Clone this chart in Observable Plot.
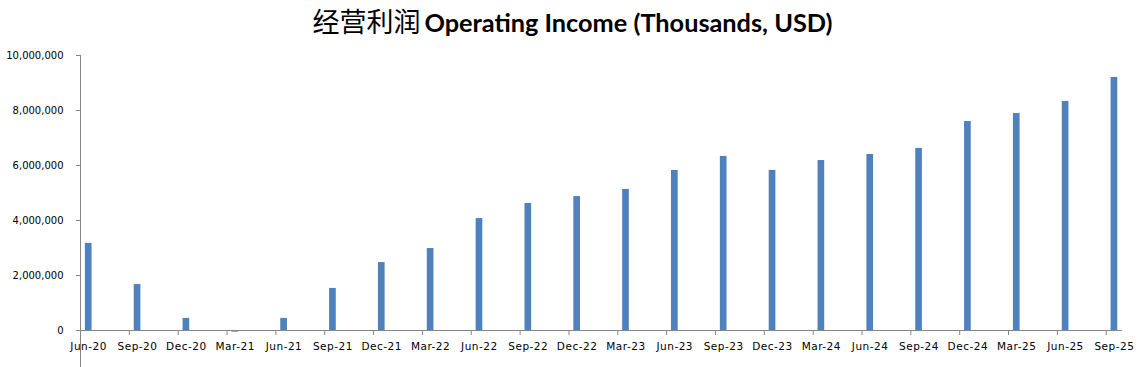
<!DOCTYPE html>
<html><head><meta charset="utf-8">
<script src="https://cdn.jsdelivr.net/npm/d3@7"></script>
<script src="https://cdn.jsdelivr.net/npm/@observablehq/plot@0.6"></script>
<style>
body{margin:0;background:#fff;width:1145px;overflow:hidden;}
#title{height:40px;text-align:center;white-space:nowrap;line-height:41px;color:#000;}
#title .zh{font-family:"Noto Sans CJK SC";font-size:27px;font-weight:400;}
#title .en{font-family:Lato,"Noto Sans";font-size:25.3px;font-weight:700;}
.xlab text{letter-spacing:0.5px;}
</style></head><body>
<div id="title"><span class="zh">经营利润</span> <span class="en">Operating Income (Thousands, USD)</span></div>
<div id="chart"></div>
<script>
const quarters = ["Jun-20","Sep-20","Dec-20","Mar-21","Jun-21","Sep-21","Dec-21","Mar-22","Jun-22","Sep-22","Dec-22","Mar-23","Jun-23","Sep-23","Dec-23","Mar-24","Jun-24","Sep-24","Dec-24","Mar-25","Jun-25","Sep-25"];
const incomeThousands = [3170000,1670000,440000,-60000,440000,1530000,2470000,2980000,4070000,4620000,4870000,5130000,5820000,6330000,5820000,6180000,6400000,6620000,7600000,7890000,8330000,9200000];
const yTicks = [0,2000000,4000000,6000000,8000000,10000000];

const monthsPerQuarter = 3;
const data = quarters.map((q,i)=>({q, m:i*monthsPerQuarter, v:incomeThousands[i]}));
const tickMonths = data.map(d=>d.m);
const axisEnd = quarters.length*monthsPerQuarter - 2;
const axisGray = "#868686";

const chart = Plot.plot({
  width:1145, height:327,
  marginTop:15, marginBottom:37, marginLeft:80, marginRight:23,
  style:{fontFamily:"DejaVu Sans", fontSize:"10px", color:"#000", background:"#fff"},
  x:{domain:[0, axisEnd], axis:null},
  y:{domain:[0, 10000000], axis:null},
  marks:[
    Plot.rectY(data,{x1:d=>d.m+0.3, x2:d=>d.m+0.71, y1:0, y2:"v", fill:"#4F81BD"}),
    Plot.ruleY([0],{x1:0, x2:axisEnd, stroke:axisGray}),
    Plot.ruleX([0],{y1:10000000, y2:-2000000, stroke:axisGray}),
    Plot.axisX({ticks:tickMonths, tickSize:5, tickFormat:()=>"", stroke:axisGray, label:null}),
    Plot.text(data,{x:d=>d.m+0.5, y:0, text:"q", lineAnchor:"top", dy:12, fill:"#000", fontSize:10.5, className:"xlab"}),
    Plot.axisY({ticks:yTicks, tickSize:4, tickPadding:13, tickFormat:d3.format(","), stroke:axisGray, fill:"#000", label:null})
  ]
});
document.getElementById("chart").appendChild(chart);
</script>
</body></html>
